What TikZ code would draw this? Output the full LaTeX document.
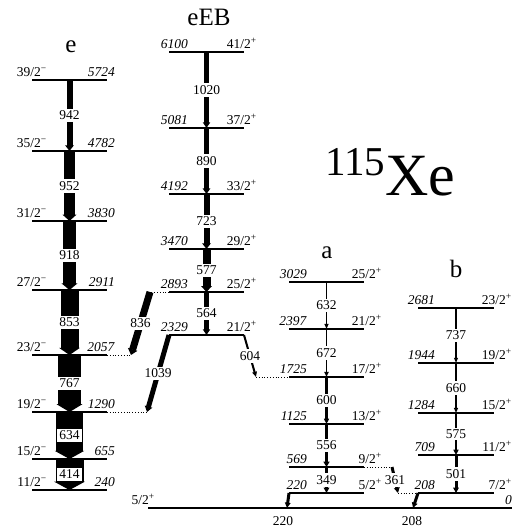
\documentclass[tikz,border=0pt]{standalone}
\usepackage{fontspec}
\setmainfont{Liberation Serif}
\usetikzlibrary{arrows.meta}

\newcommand{\lvfont}{\fontsize{13.5}{14}\selectfont}
\newcommand{\spm}{\textsuperscript{−}}
\newcommand{\spp}{\textsuperscript{+}}
% level: x1, x2, y, left text, right text, name
\newcommand{\level}[6]{%
  \draw[lev] (#1,#3) coordinate (#6L) -- (#2,#3) coordinate (#6R);
  \coordinate (#6) at ({(#1+#2)/2},#3);
  \node[ltxt] (#6a) at (#1,#3) {#4};
  \node[rtxt] (#6b) at (#2,#3) {#5};}

\tikzset{
  lev/.style={line width=2.9pt},
  gam/.style={line width=#1, -{Triangle[width=2.5pt 1, length=5pt 0.12]}},
  link/.style={line width=0.8pt, dash pattern=on 0.8pt off 2pt},
  glab/.style={fill=white, inner xsep=2pt, inner ysep=2pt, font=\lvfont},
  ltxt/.style={anchor=base east, yshift=3.2pt, inner sep=0pt, font=\lvfont},
  rtxt/.style={anchor=base east, yshift=3.2pt, inner sep=0pt, font=\lvfont},
  band/.style={anchor=base, inner sep=0pt, font=\fontsize{25}{25}\selectfont},
}

\begin{document}
\begin{tikzpicture}[x=1pt,y=-1pt]
    \useasboundingbox (0,0) rectangle (515,532);

    % band e
    \begin{scope}[ltxt/.append style={xshift=15pt}, rtxt/.append style={xshift=8pt}]
    \level{32}{107}{80}{39/2\spm}{\textit{5724}}{e5724}
    \level{32}{107}{151}{35/2\spm}{\textit{4782}}{e4782}
    \level{32}{107}{221}{31/2\spm}{\textit{3830}}{e3830}
    \level{32}{107}{290}{27/2\spm}{\textit{2911}}{e2911}
    \level{32}{107}{355}{23/2\spm}{\textit{2057}}{e2057}
    \level{32}{107}{412}{19/2\spm}{\textit{1290}}{e1290}
    \level{32}{107}{459}{15/2\spm}{\textit{655}}{e655}
    \level{32}{107}{490}{11/2\spm}{\textit{240}}{e240}
    \end{scope}
    \node[band] (te) at (71,53) {e};
    \draw[gam=6pt] (e5724) -- node[glab] (g942) {942} (e4782);
    \draw[gam=11pt] (e4782) -- node[glab] (g952) {952} (e3830);
    \draw[gam=13pt] (e3830) -- node[glab] (g918) {918} (e2911);
    \draw[gam=18pt] (e2911) -- node[glab] (g853) {853} (e2057);
    \draw[gam=23pt] (e2057) -- node[glab] (g767) {767} (e1290);
    \draw[gam=27pt] (e1290) -- node[glab] (g634) {634} (e655);
    \draw[gam=28pt] (e655) -- node[glab] (g414) {414} (e240);

    % band eEB
    \begin{scope}[ltxt/.append style={xshift=19pt}, rtxt/.append style={xshift=13pt}]
    \level{169}{244}{52}{\textit{6100}}{41/2\spp}{eb6100}
    \level{169}{244}{128}{\textit{5081}}{37/2\spp}{eb5081}
    \level{169}{244}{194}{\textit{4192}}{33/2\spp}{eb4192}
    \level{169}{244}{249}{\textit{3470}}{29/2\spp}{eb3470}
    \level{169}{244}{292}{\textit{2893}}{25/2\spp}{eb2893}
    \level{169}{244}{335}{\textit{2329}}{21/2\spp}{eb2329}
    \end{scope}
    \node[band] (teb) at (209,26) {eEB};
    \draw[gam=4.5pt] (eb6100) -- node[glab] (g1020) {1020} (eb5081);
    \draw[gam=5pt] (eb5081) -- node[glab] (g890) {890} (eb4192);
    \draw[gam=6pt] (eb4192) -- node[glab] (g723) {723} (eb3470);
    \draw[gam=8pt] (eb3470) -- node[glab] (g577) {577} (eb2893);
    \draw[gam=4.5pt] (eb2893) -- node[glab] (g564) {564} (eb2329);

    % band a
    \begin{scope}[ltxt/.append style={xshift=18pt}, rtxt/.append style={xshift=18pt}]
    \level{289}{364}{282}{\textit{3029}}{25/2\spp}{a3029}
    \level{289}{364}{329}{\textit{2397}}{21/2\spp}{a2397}
    \level{289}{364}{377}{\textit{1725}}{17/2\spp}{a1725}
    \level{289}{364}{424}{\textit{1125}}{13/2\spp}{a1125}
    \level{289}{364}{467}{\textit{569}}{9/2\spp}{a569}
    \level{289}{364}{493}{\textit{220}}{5/2\spp}{a220}
    \end{scope}
    \node[band] (ta) at (327,258) {a};
    \draw[gam=1.5pt] (a3029) -- node[glab] (g632) {632} (a2397);
    \draw[gam=1.8pt] (a2397) -- node[glab] (g672) {672} (a1725);
    \draw[gam=2.5pt] (a1725) -- node[glab] (g600) {600} (a1125);
    \draw[gam=3.5pt] (a1125) -- node[glab] (g556) {556} (a569);
    \draw[gam=3pt] (a569) -- node[glab] (g349) {349} (a220);

    % band b
    \begin{scope}[ltxt/.append style={xshift=17pt}, rtxt/.append style={xshift=18pt}]
    \level{418}{494}{308}{\textit{2681}}{23/2\spp}{b2681}
    \level{418}{494}{363}{\textit{1944}}{19/2\spp}{b1944}
    \level{418}{494}{413}{\textit{1284}}{15/2\spp}{b1284}
    \level{418}{494}{455}{\textit{709}}{11/2\spp}{b709}
    \level{418}{494}{493}{\textit{208}}{7/2\spp}{b208}
    \end{scope}
    \node[band] (tb) at (456,277) {b};
    \draw[gam=1.2pt] (b2681) -- node[glab] (g737) {737} (b1944);
    \draw[gam=1.5pt] (b1944) -- node[glab] (g660) {660} (b1284);
    \draw[gam=2.5pt] (b1284) -- node[glab] (g575) {575} (b709);
    \draw[gam=3pt] (b709) -- node[glab] (g501) {501} (b208);

    % ground state
    \draw[lev] (148,508) coordinate (gsL) -- (512,508) coordinate (gsR);
    \node[ltxt, xshift=7pt] (gsa) at (gsL) {5/2\spp};
    \node[rtxt] (gsb) at (gsR) {\textit{0}};

    % links between bands
    \coordinate (s836) at (150,292);
    \coordinate (t836) at (131,355);
    \draw[link] (eb2893L) -- (s836);
    \draw[gam=7pt] (s836) -- node[glab] (g836) {836} (t836);
    \draw[link] (e2057R) -- (t836);

    \coordinate (t1039) at (147,412);
    \draw[gam=5pt] (eb2329L) -- node[glab] (g1039) {1039} (t1039);
    \draw[link] (e1290R) -- (t1039);

    \coordinate (t604) at (256,377);
    \draw[gam=2pt] (eb2329R) -- node[glab] (g604) {604} (t604);
    \draw[link] (t604) -- (a1725L);

    \coordinate (s361) at (392,467);
    \coordinate (t361) at (398,493);
    \draw[link] (a569R) -- (s361);
    \draw[gam=3pt] (s361) -- node[glab] (g361) {361} (t361);
    \draw[link] (t361) -- (b208L);

    \coordinate (t220) at (287,508);
    \draw[gam=3pt] (a220L) -- (t220);
    \node[anchor=base, inner sep=0pt, font=\lvfont] (n220) at (283,525) {220};
    \coordinate (t208) at (413,508);
    \draw[gam=3pt] (b208L) -- (t208);
    \node[anchor=base, inner sep=0pt, font=\lvfont] (n208) at (412,525) {208};

    % nucleus
    \node[anchor=base west, inner sep=0pt] (title) at (325,195)
      {\fontsize{60}{60}\selectfont\raisebox{20pt}{\fontsize{41}{41}\selectfont 115}Xe};
\end{tikzpicture}
\end{document}
